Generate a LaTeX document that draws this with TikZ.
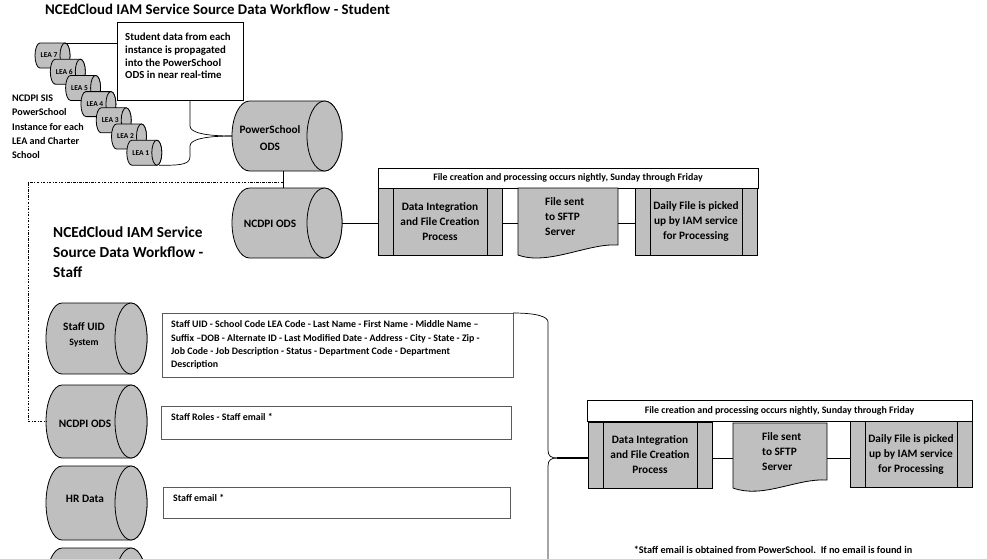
\documentclass[tikz,border=0pt]{standalone}
\usepackage{fontspec}
\setmainfont{Carlito}
\definecolor{cgray}{RGB}{191,191,191}
\definecolor{bgray}{RGB}{90,90,90}
\newcommand\myfs[2]{\fontsize{#1}{#2}\selectfont}
\tikzset{
  cylpart/.style={fill=cgray,draw=black,line width=0.8pt},
  conn/.style={draw=black,line width=0.7pt},
  procnode/.style={draw=black,fill=cgray,line width=0.8pt,inner sep=0pt,outer sep=0pt,align=center,font=\bfseries\myfs{11.3}{15}},
  procline/.style={draw=black,line width=0.7pt},
  hdrnode/.style={draw=black,fill=white,line width=0.8pt,inner sep=0pt,outer sep=0pt,font=\bfseries\myfs{9.9}{11}},
  doctext/.style={inner sep=0pt,align=left,font=\bfseries\myfs{11.3}{15}},
  cyltext/.style={inner sep=0pt,align=center,font=\bfseries\myfs{11.3}{17}},
  leatext/.style={inner sep=0pt,font=\bfseries\myfs{7.5}{8}},
  staffbox/.style={draw=bgray,fill=white,line width=1pt,inner sep=0pt,outer sep=0pt},
  stafftext/.style={inner sep=0pt,align=left,anchor=west,font=\bfseries\myfs{9.9}{13.3}},
  titletext/.style={inner sep=0pt,align=left,font=\bfseries\myfs{14.8}{20}},
  plaintext/.style={inner sep=0pt,align=left,font=\bfseries\myfs{10.8}{12.8}},
  dashdotline/.style={draw=black,line width=0.6pt,dash pattern=on 2.5pt off 1.5pt on 0.6pt off 1.5pt},
}
% cylinder: name, x1, y1, x2, y2, rx
\newcommand\mycyl[6]{%
  \pgfmathsetmacro\cyry{((#5)-(#3))/2}%
  \pgfmathsetmacro\cymy{((#5)+(#3))/2}%
  \pgfmathsetmacro\cymx{((#4)+(#2))/2}%
  \pgfmathsetmacro\cyw{(#4)-(#2)}%
  \pgfmathsetmacro\cyh{(#5)-(#3)}%
  \draw[cylpart] ({(#2)+(#6)},{#3}) -- ({(#4)-(#6)},{#3})
     arc[start angle=90,end angle=-90,x radius=#6pt,y radius=\cyry pt]
     -- ({(#2)+(#6)},{#5})
     arc[start angle=270,end angle=90,x radius=#6pt,y radius=\cyry pt] -- cycle;
  \draw[cylpart] ({(#4)-(#6)},\cymy) ellipse[x radius=#6pt,y radius=\cyry pt];
  \node[inner sep=0pt,outer sep=0pt,minimum width=\cyw pt,minimum height=\cyh pt] (#1) at (\cymx,\cymy) {};
}
% process box: name, x1, y1, x2, y2, text
\newcommand\procbox[6]{%
  \pgfmathsetmacro\pbw{(#4)-(#2)}%
  \pgfmathsetmacro\pbh{(#5)-(#3)}%
  \node[procnode,minimum width=\pbw pt,minimum height=\pbh pt] (#1) at ({((#2)+(#4))/2},{((#3)+(#5))/2}) {#6};
  \draw[procline] ([xshift=15pt]#1.north west) -- ([xshift=15pt]#1.south west);
  \draw[procline] ([xshift=-15pt]#1.north east) -- ([xshift=-15pt]#1.south east);
}
% document shape: name, x1, y1, x2, yleft, yright
\newcommand\docshape[6]{%
  \draw[cylpart] ({#2},{#3}) -- ({#4},{#3}) -- ({#4},{#6})
     .. controls ({(#4)-30},{(#6)-2}) and ({(#2)+30},{(#5)+11}) .. ({#2},{#5}) -- cycle;
  \pgfmathsetmacro\dsw{(#4)-(#2)}%
  \pgfmathsetmacro\dsh{(#5)-(#3)}%
  \node[inner sep=0pt,outer sep=0pt,minimum width=\dsw pt,minimum height=\dsh pt] (#1) at ({((#2)+(#4))/2},{((#3)+(#5))/2}) {};
}
\begin{document}
\begin{tikzpicture}[x=1pt,y=-1pt]
\clip (0,0) rectangle (987,558);
\fill[white] (0,0) rectangle (987,558);

% ---------- Student part ----------
\node[titletext,anchor=west] (title1) at (45,9) {NCEdCloud IAM Service Source Data Workflow - Student};

\node[draw=black,fill=white,line width=0.8pt,minimum width=126pt,minimum height=78pt,inner sep=0pt,outer sep=0pt] (callout) at (180,61) {};
\node[plaintext,anchor=west] (callouttext) at (125,56) {Student data from each\\instance is propagated\\into the PowerSchool\\ODS in near real-time};

\foreach \i/\lbl in {0/7,1/6,2/5,3/4,4/3,5/2,6/1} {
  \pgfmathsetmacro\lx{35+15.3*\i}
  \pgfmathsetmacro\ly{43+16.2*\i}
  \mycyl{lea\lbl}{\lx}{\ly}{\lx+35}{\ly+25}{5}
  \node[leatext] (leat\lbl) at ({\lx+14},{\ly+12.5}) {LEA \lbl};
}

\node[plaintext,anchor=west,font=\bfseries\myfs{10.1}{14.3}] (sistext) at (12,127) {NCDPI SIS\\PowerSchool\\Instance for each\\LEA and Charter\\School};

\mycyl{ps}{232}{101}{342}{171}{17.5}
\node[cyltext] (pst) at (270,138) {PowerSchool\\ODS};
\mycyl{ncdpi}{232}{188}{342}{258}{17.5}
\node[cyltext] (ncdpit) at (270,224) {NCDPI ODS};

% callout connectors
\draw[conn] ([xshift=-5pt]lea7.north east) -- (callout.west |- lea7.north);
\draw[conn] ([xshift=10pt]callout.south) -- ++(0,26) .. controls +(0,7) and +(-25,0) .. (ps.west);
\coordinate (leabot) at ([xshift=-3pt]lea1.south east);
\draw[conn] (ps.west) .. controls +(-25,0) and +(0,-7) .. (190,146) -- (190,157) .. controls +(0,9) and +(15,0) .. (leabot);

\draw[conn] ([xshift=-4pt]ps.south) -- ([xshift=-4pt]ncdpi.north);
\coordinate (ddstart) at (283,182);

% top processing row
\node[hdrnode,minimum width=380pt,minimum height=20pt] (hdr1) at (568,178) {File creation and processing occurs nightly, Sunday through Friday};
\procbox{tp1}{378}{188}{502}{255}{Data Integration\\and File Creation\\Process}
\docshape{tdoc}{518}{188}{618}{255}{245}
\node[doctext,anchor=west] (tdoct) at (545,217) {File sent\\to SFTP\\Server};
\procbox{tp3}{635}{188}{757}{255}{Daily File is picked\\up by IAM service\\for Processing}

\draw[conn] (ncdpi.east) -- (ncdpi.east -| tp1.west);
\draw[conn] (tp1.east |- ncdpi.east) -- (tdoc.west |- ncdpi.east);
\draw[conn] (tdoc.east |- ncdpi.east) -- (tp3.west |- ncdpi.east);

% ---------- Staff part ----------
\node[titletext,anchor=west,font=\bfseries\myfs{15.3}{20}] (title2) at (53,252) {NCEdCloud IAM Service\\Source Data Workflow -\\Staff};

\mycyl{su}{46}{303}{147}{374}{16}
\node[cyltext,font=\bfseries\myfs{11.3}{15}] (sut) at (84,335) {Staff UID\\{\myfs{9.8}{11}System}};
\mycyl{sn}{46}{385}{147}{458}{16}
\node[cyltext] (snt) at (85,424) {NCDPI ODS};
\mycyl{sh}{46}{466}{147}{540}{16}
\node[cyltext] (sht) at (85,499) {HR Data};
\mycyl{s4}{46}{548}{147}{622}{16}

\draw[dashdotline] (ddstart) -- (28,182) |- (sn.west);

\node[staffbox,minimum width=351pt,minimum height=64pt] (sb1) at (337.5,345) {};
\node[stafftext] (sb1t) at (171,345) {Staff UID - School Code LEA Code - Last Name - First Name - Middle Name --\\Suffix --DOB - Alternate ID - Last Modified Date - Address - City - State - Zip -\\Job Code - Job Description - Status - Department Code - Department\\Description};
\node[staffbox,minimum width=350pt,minimum height=33pt] (sb2) at (336,422.5) {};
\node[stafftext] (sb2t) at (171,417) {Staff Roles - Staff email *};
\node[staffbox,minimum width=347pt,minimum height=31pt] (sb3) at (336.5,502.5) {};
\node[stafftext] (sb3t) at (173,498) {Staff email *};

% brace
\coordinate (tip) at (557,458);
\draw[conn] (sb1.north east) .. controls +(25,0) and +(0,-5) .. (548,322) -- (548,450)
   .. controls +(0,6) and +(-6,0) .. (tip);
\draw[conn] (tip) .. controls +(-6,0) and +(0,-6) .. (548,466) -- (548,570);

% bottom processing row
\node[hdrnode,minimum width=385pt,minimum height=21pt] (hdr2) at (779.5,410.5) {File creation and processing occurs nightly, Sunday through Friday};
\procbox{bp1}{588}{422}{712}{488}{Data Integration\\and File Creation\\Process}
\docshape{bdoc}{733}{423}{827}{488}{480}
\node[doctext,anchor=west] (bdoct) at (762,452) {File sent\\to SFTP\\Server};
\procbox{bp3}{850}{421}{972}{487}{Daily File is picked\\up by IAM service\\for Processing}

\draw[draw=black,line width=1.3pt] (tip) -- (tip -| bp1.west);
\draw[conn] (bp1.east |- tip) -- (bdoc.west |- tip);
\draw[conn] (bdoc.east |- tip) -- (bp3.west |- tip);

\node[inner sep=0pt,font=\bfseries\myfs{10.2}{11}] (foot) at (773,550) {*Staff email is obtained from PowerSchool.\ \ If no email is found in};
\end{tikzpicture}
\end{document}
